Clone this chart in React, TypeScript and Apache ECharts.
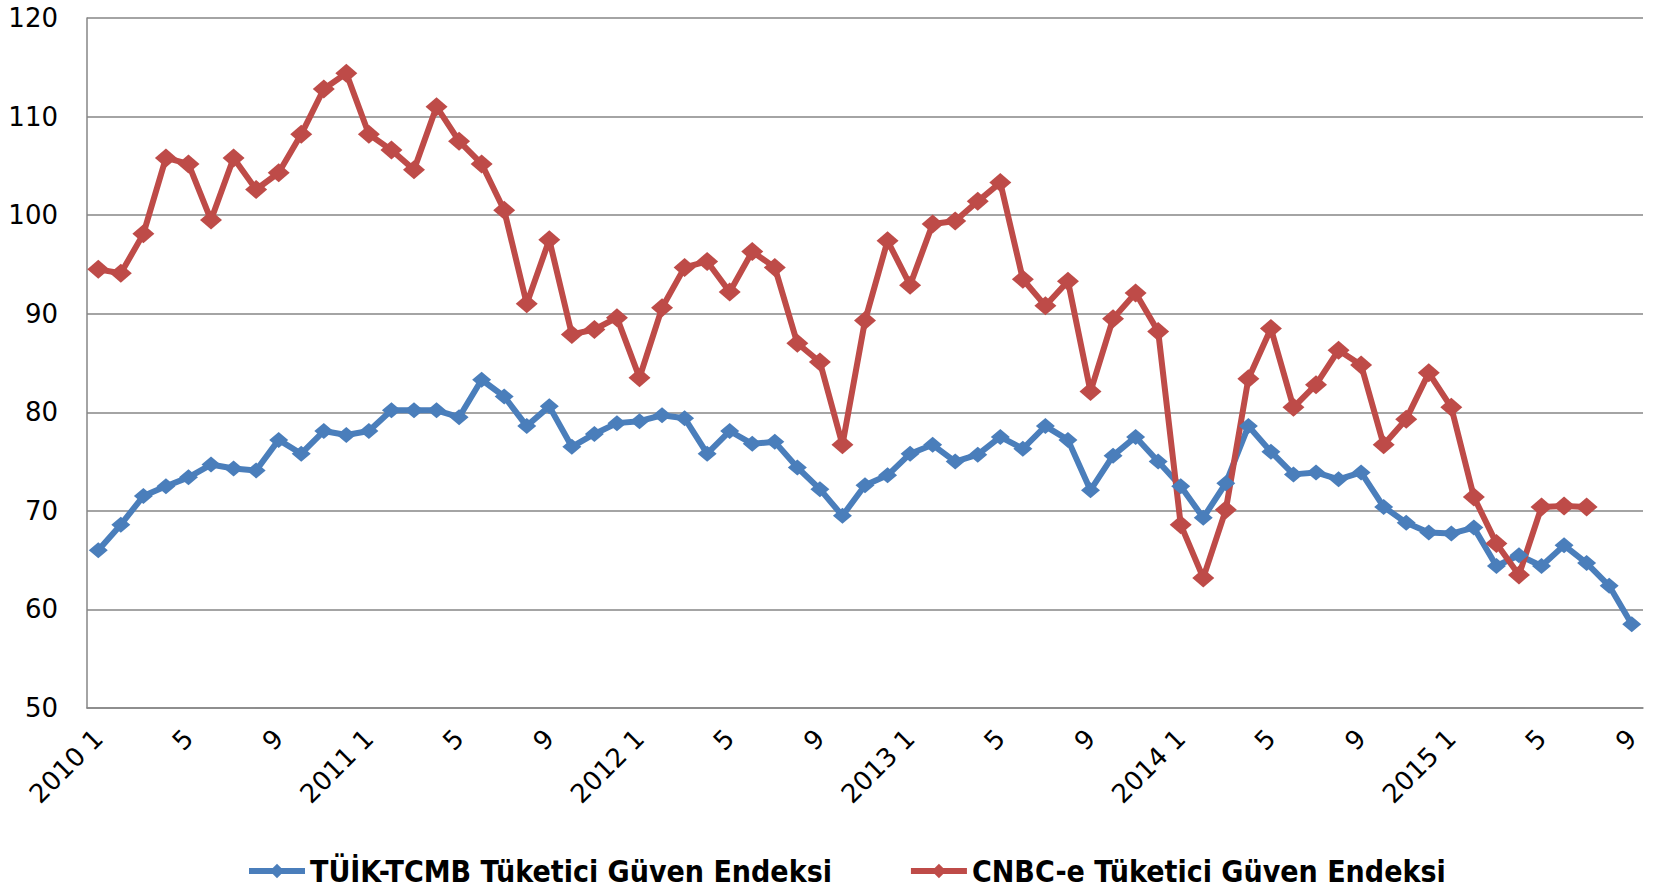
import React, { useEffect, useRef } from "react";
import * as echarts from "echarts";

const years = [2010, 2011, 2012, 2013, 2014, 2015];
const lastMonth2015 = 9;

const tuikValues = [
  66.0, 68.6, 71.5, 72.5, 73.4, 74.7, 74.3, 74.1, 77.2, 75.8, 78.1, 77.7,
  78.1, 80.2, 80.2, 80.2, 79.5, 83.3, 81.6, 78.6, 80.6, 76.5, 77.8, 78.9,
  79.1, 79.7, 79.4, 75.8, 78.1, 76.8, 77.0, 74.4, 72.2, 69.5, 72.6, 73.6,
  75.8, 76.7, 75.0, 75.7, 77.5, 76.3, 78.6, 77.2, 72.1, 75.6, 77.5, 75.0,
  72.5, 69.3, 72.8, 78.6, 76.0, 73.7, 73.9, 73.2, 73.9, 70.4, 68.8, 67.8,
  67.7, 68.3, 64.4, 65.5, 64.4, 66.5, 64.7, 62.4, 58.5,
];

const cnbcValues = [
  94.5, 94.1, 98.1, 105.8, 105.2, 99.5, 105.8, 102.6, 104.3, 108.2, 112.8, 114.4,
  108.2, 106.6, 104.6, 111.0, 107.5, 105.2, 100.5, 91.0, 97.5, 87.9, 88.4, 89.6,
  83.5, 90.6, 94.7, 95.3, 92.2, 96.3, 94.7, 87.0, 85.1, 76.7, 89.3, 97.4,
  92.9, 99.1, 99.4, 101.4, 103.3, 93.5, 90.8, 93.3, 82.1, 89.5, 92.1, 88.2,
  68.6, 63.2, 70.1, 83.4, 88.5, 80.5, 82.8, 86.3, 84.8, 76.7, 79.3, 84.0,
  80.5, 71.4, 66.7, 63.5, 70.4, 70.5, 70.4,
];

const seriesNames = [
  "TÜİK-TCMB Tüketici Güven Endeksi",
  "CNBC-e Tüketici Güven Endeksi",
];

const categories: string[] = [];
for (const y of years) {
  const maxM = y === 2015 ? lastMonth2015 : 12;
  for (let m = 1; m <= maxM; m++) categories.push(`${y} ${m}`);
}

const BLUE = "#4A7EBB";
const RED = "#BE4B48";

export default function App() {
  const ref = useRef<HTMLDivElement>(null);
  useEffect(() => {
    document.body.style.margin = "0";
    document.body.style.overflow = "hidden";
    const chart = echarts.init(ref.current!, null, { renderer: "svg" });
    chart.setOption({
      animation: false,
      backgroundColor: "#ffffff",
      grid: { left: 87, right: 20, top: 18, bottom: 181, containLabel: false },
      legend: {
        left: 246,
        top: 855,
        itemWidth: 56,
        itemHeight: 18,
        itemGap: 76,
        padding: 0,
        lineStyle: { width: 6 },
        textStyle: {
          fontFamily: "DejaVu Sans Condensed, DejaVu Sans",
          fontWeight: "bold",
          fontSize: 30,
          lineHeight: 32,
          color: "#000",
        },
        data: seriesNames,
      },
      xAxis: {
        type: "category",
        data: categories,
        boundaryGap: true,
        axisLine: { lineStyle: { color: "#868686", width: 1.5 } },
        axisTick: { show: false },
        axisLabel: {
          interval: 3,
          rotate: 45,
          margin: 26,
          fontFamily: "DejaVu Sans",
          fontSize: 26,
          color: "#000",
          formatter: (v: string) => {
            const [y, m] = v.split(" ");
            return m === "1" ? `${y} ${m}` : m;
          },
        },
        splitLine: { show: false },
      },
      yAxis: {
        type: "value",
        min: 50,
        max: 120,
        interval: 10,
        axisLine: { show: true, lineStyle: { color: "#868686", width: 1.5 } },
        axisTick: { show: false },
        axisLabel: {
          margin: 29,
          fontFamily: "DejaVu Sans",
          fontSize: 26,
          color: "#000",
        },
        splitLine: { lineStyle: { color: "#868686", width: 1.5 } },
      },
      series: [
        {
          name: seriesNames[0],
          type: "line",
          data: tuikValues,
          symbol: "diamond",
          showAllSymbol: true,
          symbolSize: [19, 16],
          lineStyle: { color: BLUE, width: 6 },
          itemStyle: { color: BLUE },
        },
        {
          name: seriesNames[1],
          type: "line",
          data: cnbcValues,
          symbol: "diamond",
          showAllSymbol: true,
          symbolSize: [22, 19],
          lineStyle: { color: RED, width: 6 },
          itemStyle: { color: RED },
        },
      ],
    });
    return () => chart.dispose();
  }, []);
  return <div ref={ref} style={{ width: 1663, height: 889 }} />;
}
